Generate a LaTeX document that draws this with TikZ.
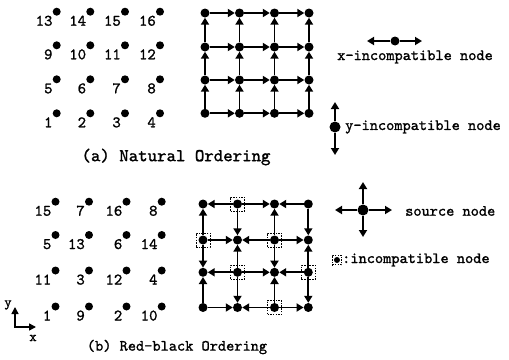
\documentclass[tikz,border=0pt]{standalone}
\usepackage{fontspec}
\setmonofont{lmmono10-regular.otf}[FakeBold=1.3]
\usetikzlibrary{arrows.meta}
\begin{document}
\begin{tikzpicture}[x=1pt,y=-1pt,
  dot/.style={circle,fill=black,inner sep=0pt,minimum size=9pt},
  sdot/.style={circle,fill=black,inner sep=0pt,minimum size=8pt},
  edge/.style={line width=1.8pt,-{Triangle[length=7pt,width=8pt]}},
  lab/.style={font=\ttfamily\fontsize{16}{16}\selectfont,inner sep=0pt,anchor=base east},
  legtext/.style={font=\ttfamily\fontsize{15.6}{16}\selectfont,inner sep=0pt,anchor=west},
  incbox/.style={draw,dash pattern=on 1.5pt off 1.2pt,line width=0.9pt,minimum size=14pt,inner sep=0pt},
  axisarrow/.style={line width=1.5pt,{Triangle[length=7pt,width=7pt]}-{Triangle[length=7pt,width=7pt]}}]
\useasboundingbox (0,0) rectangle (509,359);

% ---------- (a) natural ordering: numbered grid ----------
\foreach \c/\x in {0/56.7,1/90.3,2/125,3/160}
  \foreach \r/\y in {0/113.3,1/79.3,2/45.3,3/11.7} {
    \pgfmathtruncatemacro\n{4*\r+\c+1}
    \node[sdot] (L\c\r) at (\x,\y) {};
    \node[lab] (LL\c\r) at ({\x-4},{\y+14}) {\n};
  }

% ---------- (a) natural ordering: dependency grid ----------
\foreach \c/\x in {0/205,1/239.5,2/274.5,3/309}
  \foreach \r/\y in {0/113.3,1/80,2/47,3/13} {
    \node[dot] (A\c\r) at (\x,\y) {};
  }
\foreach \c in {0,1,2}
  \foreach \r in {0,...,3} {
    \pgfmathtruncatemacro\n{\c+1}
    \draw[edge] (A\c\r) -- (A\n\r);
  }
\foreach \c in {0,...,3}
  \foreach \r in {0,1,2} {
    \pgfmathtruncatemacro\n{\r+1}
    \draw[edge] (A\c\r) -- (A\c\n);
  }

\node[font=\ttfamily\fontsize{18}{18}\selectfont,inner sep=0pt] (capa) at (176,157) {(a) Natural Ordering};

% ---------- legend ----------
\node[dot] (xi) at (395,41) {};
\coordinate (xl) at (367,41);
\coordinate (xr) at (422,41);
\draw[edge] (xi) -- (xl);
\draw[edge] (xi) -- (xr);
\node[legtext] (xt) at (337,57) {x-incompatible node};

\node[dot,minimum size=11pt] (yi) at (335,127) {};
\coordinate (yu) at (335,102);
\coordinate (yd) at (335,155);
\draw[edge] (yi) -- (yu);
\draw[edge] (yi) -- (yd);
\node[legtext] (yt) at (345,127) {y-incompatible node};

\node[dot,minimum size=11pt] (si) at (363,210) {};
\coordinate (su) at (363,182);
\coordinate (sd) at (363,237);
\coordinate (sl) at (335,210);
\coordinate (sr) at (392,210);
\draw[edge] (si) -- (su);
\draw[edge] (si) -- (sd);
\draw[edge] (si) -- (sl);
\draw[edge] (si) -- (sr);
\node[legtext] (st) at (405,211) {source node};

\node[dot,minimum size=6pt] (ii) at (337,260) {};
\node[incbox,minimum size=9.5pt] (ib) at (337,260) {};
\node[legtext] (it) at (342,260) {:incompatible node};

% ---------- (b) red-black ordering: numbered grid ----------
\foreach \c/\r/\n in {0/0/1,1/0/9,2/0/2,3/0/10,
                      0/1/11,1/1/3,2/1/12,3/1/4,
                      0/2/5,1/2/13,2/2/6,3/2/14,
                      0/3/15,1/3/7,2/3/16,3/3/8} {
    \pgfmathsetmacro\x{{55.5,89,126.5,161.7}[\c]}
    \pgfmathsetmacro\y{{306.5,270.5,235,201.7}[\r]}
    \node[sdot] (R\c\r) at (\x,\y) {};
    \node[lab] (RL\c\r) at ({\x-4},{\y+14}) {\n};
  }

% ---------- (b) red-black ordering: dependency grid ----------
\foreach \c/\x in {0/203,1/237.5,2/274.5,3/308.3}
  \foreach \r/\y in {0/307.5,1/272.3,2/240,3/204} {
    \node[dot] (B\c\r) at (\x,\y) {};
  }
\foreach \c in {0,1,2}
  \foreach \r in {0,...,3} {
    \pgfmathtruncatemacro\n{\c+1}
    \pgfmathtruncatemacro\p{mod(\c+\r,2)}
    \ifnum\p=0 \draw[edge] (B\c\r) -- (B\n\r); \else \draw[edge] (B\n\r) -- (B\c\r); \fi
  }
\foreach \c in {0,...,3}
  \foreach \r in {0,1,2} {
    \pgfmathtruncatemacro\n{\r+1}
    \pgfmathtruncatemacro\p{mod(\c+\r,2)}
    \ifnum\p=0 \draw[edge] (B\c\r) -- (B\c\n); \else \draw[edge] (B\c\n) -- (B\c\r); \fi
  }
\foreach \c/\r in {1/3,0/2,2/2,1/1,3/1,2/0}
  \node[incbox] (IB\c\r) at (B\c\r) {};

\node[font=\ttfamily\fontsize{15.6}{16}\selectfont,inner sep=0pt] (capb) at (177,347) {(b) Red-black Ordering};

% ---------- axes ----------
\coordinate (ao) at (15,327);
\coordinate (ax) at (36,327);
\coordinate (ay) at (15,307);
\draw[axisarrow] (ax) -- (ao) -- (ay);
\node[font=\ttfamily\fontsize{14}{14}\selectfont,inner sep=0pt] (ylab) at (8,305) {y};
\node[font=\ttfamily\fontsize{14}{14}\selectfont,inner sep=0pt] (xlab) at (33,338) {x};
\end{tikzpicture}
\end{document}
